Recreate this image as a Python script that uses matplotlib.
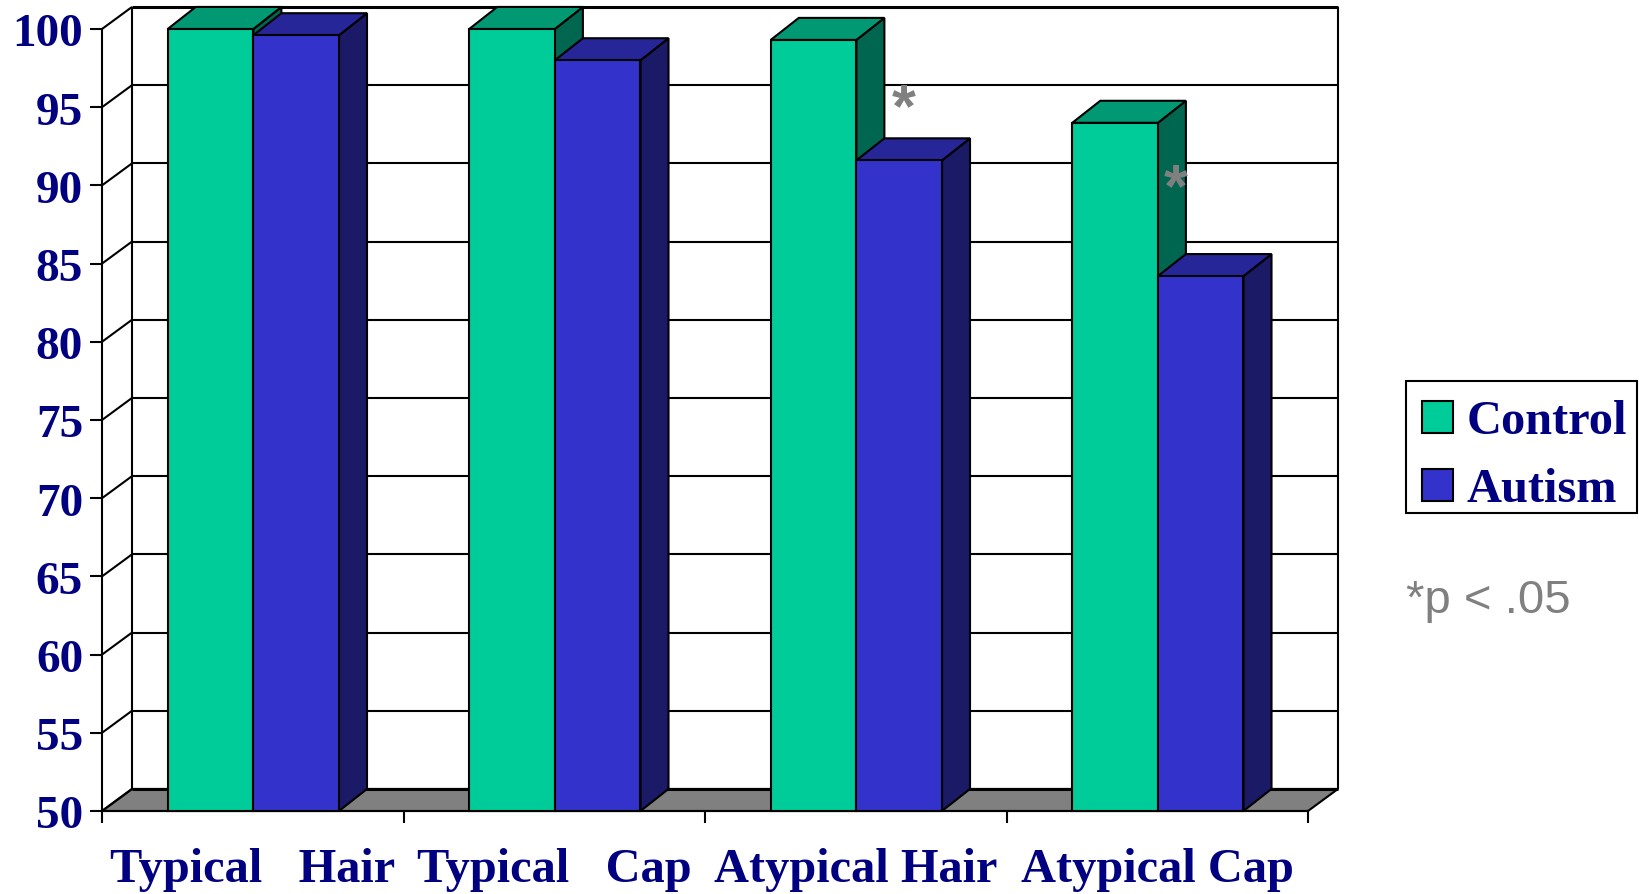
import numpy as np
import matplotlib
matplotlib.use('Agg')
import matplotlib.pyplot as plt
from matplotlib.patches import Polygon, Patch, Rectangle
from matplotlib.transforms import ScaledTranslation

# accuracy per condition, percent
conditions = ['Typical   Hair', 'Typical   Cap', 'Atypical Hair', 'Atypical Cap']
control = [100, 100, 99.3, 94]
autism = [99.6, 98, 91.6, 84.2]
y_ticks = [50, 55, 60, 65, 70, 75, 80, 85, 90, 95, 100]

NAVY = '#000080'
GREY = '#808080'
# front, top, side shades of each series
GREEN = ('#00CC99', '#009973', '#006650')
BLUE = ('#3333CC', '#262699', '#1A1A66')

# how far the fake 3d depth shifts things, in data units
DX = 0.0995
DY = 1.41
BAR_DX = 0.093
BAR_W = 0.284
LW = 1.5
FS = 34.8

plt.rcParams['font.family'] = ['Liberation Serif']
plt.rcParams['font.weight'] = 'bold'
plt.rcParams['font.size'] = FS

fig = plt.figure(figsize=(16.39, 8.94), dpi=100)
ax = fig.add_axes([102 / 1639, 83 / 894, 1206 / 1639, 782 / 894])
ax.set_xlim(0, 4)
ax.set_ylim(50, 100)
ax.patch.set_visible(False)


def poly(pts, color, z):
    ax.add_patch(Polygon(pts, closed=True, facecolor=color, edgecolor='black',
                         linewidth=LW, joinstyle='miter', clip_on=False, zorder=z))


def line(xs, ys, lw=LW):
    ax.plot(xs, ys, color='black', lw=lw, clip_on=False, zorder=1,
            solid_capstyle='butt')


def bar3d(x0, w, val, colors, z):
    front, top, side = colors
    poly([(x0 + w, 50), (x0 + w + BAR_DX, 50 + DY), (x0 + w + BAR_DX, val + DY), (x0 + w, val)], side, z)
    poly([(x0, val), (x0 + BAR_DX, val + DY), (x0 + w + BAR_DX, val + DY), (x0 + w, val)], top, z)
    poly([(x0, 50), (x0, val), (x0 + w, val), (x0 + w, 50)], front, z + 0.1)


# floor
poly([(0, 50), (DX, 50 + DY), (4 + DX, 50 + DY), (4, 50)], GREY, 0.5)

# walls and gridlines
for y in y_ticks:
    line([0, DX], [y, y + DY])
    line([DX, 4 + DX], [y + DY, y + DY], lw=2.2 if y in (50, 100) else LW)
line([DX, DX], [50 + DY, 100 + DY])
line([4 + DX, 4 + DX], [50 + DY, 100 + DY])

for i in range(len(conditions)):
    bar3d(i + 0.002 + 0.5 - BAR_W, BAR_W, control[i], GREEN, 2 + i)
    bar3d(i + 0.002 + 0.5, BAR_W, autism[i], BLUE, 2.5 + i)

# significance stars
ax.text(2.66, 94.8, '*', color=GREY, family='Liberation Sans', weight='bold',
        fontsize=44, ha='center', va='center', zorder=10, clip_on=False)
ax.text(3.562, 89.65, '*', color=GREY, family='Liberation Sans', weight='bold',
        fontsize=44, ha='center', va='center', zorder=10, clip_on=False)

for s in ['top', 'right']:
    ax.spines[s].set_visible(False)
for s in ['left', 'bottom']:
    ax.spines[s].set_linewidth(LW)
    ax.spines[s].set_zorder(1.5)

ax.set_yticks(y_ticks)
ax.tick_params(axis='y', length=8.6, width=LW, pad=5, labelcolor=NAVY, labelsize=34)
# numbers sit a touch below their ticks
shift = ScaledTranslation(0, -1.0 / 72, fig.dpi_scale_trans)
for lab in ax.get_yticklabels():
    lab.set_transform(lab.get_transform() + shift)

ax.set_xticks(np.arange(5))
ax.set_xticklabels([])
ax.set_xticks(np.arange(4) + 0.5, minor=True)
ax.set_xticklabels(conditions, minor=True)
ax.tick_params(axis='x', which='major', length=8.6, width=LW)
ax.tick_params(axis='x', which='minor', length=0, pad=26.5, labelcolor=NAVY, labelsize=FS)

# legend, frame drawn separately so it can hug the entries
handles = [Patch(facecolor=GREEN[0], edgecolor='black', linewidth=LW, label='Control'),
           Patch(facecolor=BLUE[0], edgecolor='black', linewidth=LW, label='Autism')]
fig.legend(handles=handles, loc='upper left',
           bbox_to_anchor=(1422 / 1639, 1 - 400 / 894),
           bbox_transform=fig.transFigure, frameon=False, labelcolor=NAVY,
           borderaxespad=0, borderpad=0, handlelength=0.635, handleheight=0.635,
           handletextpad=0.29, labelspacing=0.49, fontsize=FS)
fig.add_artist(Rectangle((1406 / 1639, 1 - 513 / 894), 231 / 1639, 132 / 894,
                         transform=fig.transFigure, facecolor='none',
                         edgecolor='black', linewidth=LW))

fig.text(1406 / 1639, 1 - 613 / 894, '*p < .05', color=GREY, family='Liberation Sans',
         weight='normal', fontsize=34, ha='left', va='baseline')

fig.savefig('out.png', dpi=100)
